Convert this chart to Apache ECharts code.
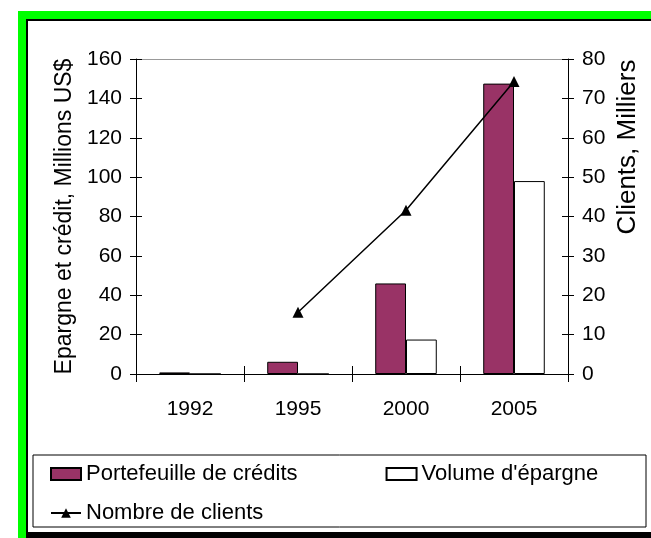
<!DOCTYPE html>
<html>
<head>
<meta charset="utf-8">
<script src="https://cdn.jsdelivr.net/npm/echarts@6/dist/echarts.min.js"></script>
<style>
html,body{margin:0;padding:0;background:#fff;}
#chart{width:651px;height:538px;}
</style>
</head>
<body>
<div id="chart"></div>
<script>
const categories = ['1992', '1995', '2000', '2005'];
const portefeuille = [0.8, 6.2, 46, 147.5];
const epargne = [0, 0, 17.5, 98];
const clients = [null, 15.7, 41.6, 74.3];
const leftTicks = {min: 0, max: 160, interval: 20};
const rightTicks = {min: 0, max: 80, interval: 10};
const names = {
  bar1: 'Portefeuille de crédits',
  bar2: "Volume d'épargne",
  line: 'Nombre de clients',
  left: 'Epargne et crédit, Millions US$',
  right: 'Clients, Milliers'
};

const FONT = "'Liberation Sans', Arial, sans-serif";
const FS = 23;
const TFS = 21;
const chart = echarts.init(document.getElementById('chart'), null, {renderer: 'canvas'});

function yAx(pos, t, inside, extra) {
  return Object.assign({
    type: 'value', position: pos, min: t.min, max: t.max, interval: t.interval,
    axisLine: {show: !inside, lineStyle: {color: '#000', width: 1}},
    axisTick: {show: true, inside: inside, length: 6, lineStyle: {color: '#000'}},
    axisLabel: {show: !inside, color: '#000', fontFamily: FONT, fontSize: TFS, margin: 14},
    splitLine: {show: false}
  }, extra || {});
}

const option = {
  animation: false,
  backgroundColor: '#fff',
  textStyle: {fontFamily: FONT},
  graphic: [
    {type: 'rect', z: -10, shape: {x: 18, y: 11, width: 700, height: 600}, style: {fill: '#00ff00'}},
    {type: 'rect', z: -9, shape: {x: 26, y: 19, width: 700, height: 600}, style: {fill: '#000'}},
    {type: 'rect', z: -8, shape: {x: 28, y: 21, width: 700, height: 511}, style: {fill: '#fff'}},
    {type: 'rect', z: -7, shape: {x: 33, y: 455, width: 613, height: 72}, style: {fill: 'none', stroke: '#000', lineWidth: 1}},
    {type: 'text', z: 10, x: 628, y: 147, rotation: Math.PI / 2,
      style: {text: names.right, font: '26px ' + FONT, fill: '#000', textAlign: 'center', textVerticalAlign: 'middle'}}
  ],
  grid: {left: 136, right: 83, top: 59, bottom: 164, containLabel: false},
  legend: [
    {left: 45, top: 458, itemWidth: 30, itemHeight: 12, itemGap: 88, icon: 'rect',
      textStyle: {fontFamily: FONT, fontSize: 22, color: '#000'},
      data: [names.bar1, names.bar2]},
    {left: 45, top: 497, itemWidth: 30, itemHeight: 12,
      textStyle: {fontFamily: FONT, fontSize: 22, color: '#000'},
      data: [names.line]}
  ],
  xAxis: [
    {type: 'category', data: categories, position: 'bottom',
      axisLine: {lineStyle: {color: '#000'}},
      axisTick: {show: true, length: 8, lineStyle: {color: '#000'}},
      axisLabel: {color: '#000', fontFamily: FONT, fontSize: TFS, margin: 25}},
    {type: 'category', data: categories, position: 'bottom',
      axisLine: {show: false},
      axisTick: {show: true, inside: true, length: 8, lineStyle: {color: '#000'}},
      axisLabel: {show: false}}
  ],
  yAxis: [
    yAx('left', leftTicks, false, {
      name: names.left, nameLocation: 'middle', nameRotate: 90, nameGap: 50,
      nameTextStyle: {fontFamily: FONT, fontSize: FS, color: '#000'},
      splitLine: {show: true, lineStyle: {color: ['transparent','transparent','transparent','transparent','transparent','transparent','transparent','transparent','#999'], width: 1}}
    }),
    yAx('right', rightTicks, false),
    yAx('left', leftTicks, true),
    yAx('right', rightTicks, true)
  ],
  series: [
    {name: names.bar1, type: 'bar', yAxisIndex: 0, data: portefeuille, barGap: '0%', barCategoryGap: '43%',
      itemStyle: {color: '#993366', borderColor: '#000', borderWidth: 1}},
    {name: names.bar2, type: 'bar', yAxisIndex: 0, data: epargne, barGap: '0%', barCategoryGap: '43%',
      itemStyle: {color: '#fff', borderColor: '#000', borderWidth: 1}},
    {name: names.line, type: 'line', yAxisIndex: 1, data: clients, symbol: 'triangle', symbolSize: 11,
      showAllSymbol: true, connectNulls: false,
      lineStyle: {color: '#000', width: 1.5}, itemStyle: {color: '#000'}, z: 5}
  ]
};
chart.setOption(option);
</script>
</body>
</html>
